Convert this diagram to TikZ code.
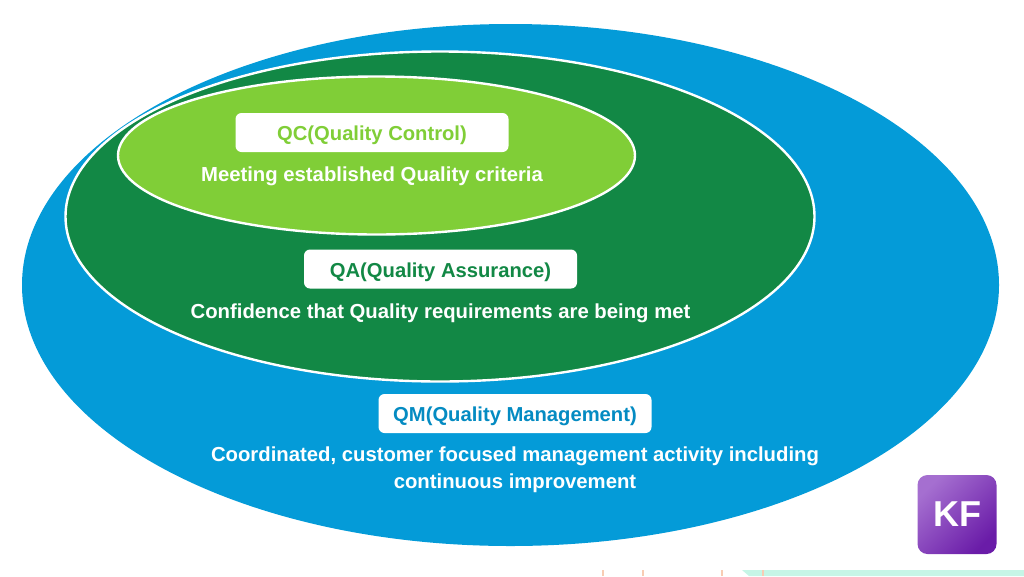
\documentclass[tikz,border=0pt]{standalone}
\usepackage{fontspec}
\setmainfont{Liberation Sans}
\usetikzlibrary{shapes.geometric}
\definecolor{qmblue}{HTML}{049BD8}
\definecolor{qagreen}{HTML}{128845}
\definecolor{qclime}{HTML}{80CE37}
\definecolor{kftop}{HTML}{A56FD0}
\definecolor{kfbot}{HTML}{6A1CA8}
\definecolor{tickorange}{HTML}{F8CDB4}
\definecolor{mintband}{HTML}{C6F5E6}
\tikzset{
  oval/.style={ellipse,inner sep=0pt,outer sep=0pt,draw=white,line width=2.4pt},
  tag/.style={fill=white,rounded corners=6pt,inner sep=0pt,minimum height=39pt,text height=20pt,text depth=4pt,font=\fontsize{20.2}{24}\selectfont\bfseries},
  caption/.style={text=white,align=center,inner sep=0pt,font=\fontsize{20.3}{27}\selectfont\bfseries},
  tick/.style={draw=tickorange,line width=1.2pt}
}
\begin{document}
\begin{tikzpicture}[x=1pt,y=-1pt]
  \useasboundingbox (0,0) rectangle (1024,576);
  % ovals
  \node[oval,draw=none,fill=qmblue,minimum width=977pt,minimum height=522pt] (qm) at (510.5,285) {};
  \node[oval,fill=qagreen,minimum width=749pt,minimum height=330pt] (qa) at (440,216.5) {};
  \node[oval,fill=qclime,minimum width=517pt,minimum height=158pt] (qc) at (376.5,155.5) {};
  % labels
  \node[tag,text=qclime,minimum width=273pt] (qctag) at (372,132.5) {QC(Quality Control)};
  \node[caption] (qctext) at (372,176) {Meeting established Quality criteria};
  \node[tag,text=qagreen,minimum width=273pt] (qatag) at (440.5,269) {QA(Quality Assurance)};
  \node[caption] (qatext) at (440.5,313) {Confidence that Quality requirements are being met};
  \node[tag,text=qmblue!90!black,minimum width=273pt] (qmtag) at (515,413.5) {QM(Quality Management)};
  \node[caption] (qmtext) at (515,470) {Coordinated, customer focused management activity including\\continuous improvement};
  % badge
  \node[rounded corners=10pt,minimum width=79pt,minimum height=79pt,inner sep=0pt,
    top color=kftop,bottom color=kfbot,shading angle=45,text=white,
    font=\fontsize{36}{36}\selectfont\bfseries] (kf) at (957,514.5) {KF};
  % bottom edge
  \coordinate (t1) at (603,570); \coordinate (b1) at (603,576);
  \coordinate (t2) at (643,570); \coordinate (b2) at (643,576);
  \coordinate (t3) at (722,570); \coordinate (b3) at (722,576);
  \coordinate (t4) at (763,570); \coordinate (b4) at (763,576);
  \fill[mintband] (742,570) -- (1024,570) -- (1024,576) -- (749,576) -- cycle;
  \foreach \i in {1,2,3,4}
    \draw[tick] (t\i) -- (b\i);
\end{tikzpicture}
\end{document}
